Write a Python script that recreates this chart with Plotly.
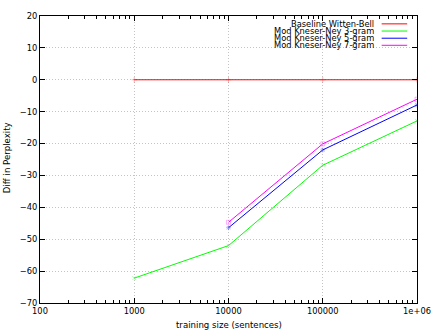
import plotly.graph_objects as go

# ---- data ----
sizes_baseline = [1000, 10000, 100000, 1000000]
baseline = [0, 0, 0, 0]
sizes_3gram = [1000, 10000, 100000, 1000000]
kn3 = [-62.2, -52.0, -26.8, -12.9]
sizes_5gram = [10000, 100000, 1000000]
kn5 = [-46.4, -22.0, -7.9]
sizes_7gram = [10000, 100000, 1000000]
kn7 = [-44.7, -20.1, -6.1]

x_tickvals = [100, 1000, 10000, 100000, 1000000]
x_ticktext = ["100", "1000", "10000", "100000", "1e+06"]
y_tickvals = list(range(-70, 21, 10))

series = [
    ("Baseline Witten-Bell", sizes_baseline, baseline, "#ff0000", "cross-thin"),
    ("Mod Kneser-Ney 3-gram", sizes_3gram, kn3, "#00ff00", "x-thin"),
    ("Mod Kneser-Ney 5-gram", sizes_5gram, kn5, "#0000ff", "asterisk"),
    ("Mod Kneser-Ney 7-gram", sizes_7gram, kn7, "#ff00ff", "square-open"),
]

FONT = "DejaVu Sans"
FS = 8.3
fig = go.Figure()
for name, xs, ys, col, sym in series:
    fig.add_trace(go.Scatter(
        x=xs, y=ys, name=name, mode="lines+markers",
        line=dict(color=col, width=1),
        marker=dict(symbol=sym, size=4, color=col, opacity=0.3,
                    line=dict(color=col, width=1)),
        showlegend=False, cliponaxis=True,
    ))

W, H = 442, 332
L, R, T, B = 40, 18, 11, 29
pw, ph = W - L - R, H - T - B

def px_x(p):
    return (p - L) / pw

def px_y(p):
    return 1 - (p - T) / ph

# custom gnuplot-style legend (text right, sample line on the right)
leg_rows = [19.0, 26.3, 33.6, 40.8]
for (name, xs, ys, col, sym), yy in zip(series, leg_rows):
    fig.add_annotation(xref="paper", yref="paper", x=px_x(381), y=px_y(yy),
                       text=name, showarrow=False, xanchor="right", yanchor="middle",
                       borderpad=0,
                       font=dict(family=FONT, size=FS, color="#000000"))
    fig.add_shape(type="line", xref="paper", yref="paper",
                  x0=px_x(388), x1=px_x(414), y0=px_y(yy), y1=px_y(yy),
                  line=dict(color=col, width=1))

minor_vals = [m * 10 ** e for e in range(2, 6) for m in range(2, 10)]

GRID = "#c4c4c4"
fig.update_xaxes(
    type="log", range=[2, 6],
    tickmode="array", tickvals=x_tickvals, ticktext=x_ticktext,
    ticks="inside", ticklen=5, tickcolor="#000000", tickwidth=1,
    minor=dict(tickmode="array", tickvals=minor_vals, ticks="inside", ticklen=3,
               tickcolor="#000000", showgrid=False),
    showline=True, linecolor="#000000", linewidth=1, mirror="allticks",
    showgrid=True, gridcolor=GRID, griddash="1px,2px", gridwidth=1,
    zeroline=False, tickfont=dict(family=FONT, size=FS, color="#000000"),
)
fig.update_yaxes(
    range=[-70, 20], tickmode="array", tickvals=y_tickvals,
    ticks="inside", ticklen=5, tickcolor="#000000", tickwidth=1,
    showline=True, linecolor="#000000", linewidth=1, mirror="allticks",
    showgrid=True, gridcolor=GRID, griddash="1px,2px", gridwidth=1,
    zeroline=False, tickfont=dict(family=FONT, size=FS, color="#000000"),
)

fig.add_annotation(xref="paper", yref="paper", x=px_x(232), y=px_y(325),
                   text="training size (sentences)", showarrow=False,
                   xanchor="center", yanchor="middle",
                   font=dict(family=FONT, size=8.6, color="#000000"))
fig.add_annotation(xref="paper", yref="paper", x=px_x(6), y=px_y(155),
                   text="Diff in Perplexity", showarrow=False, textangle=-90,
                   xanchor="center", yanchor="middle",
                   font=dict(family=FONT, size=8.6, color="#000000"))

fig.update_layout(
    width=W, height=H,
    margin=dict(l=L, r=R, t=T, b=B, pad=0),
    paper_bgcolor="#ffffff", plot_bgcolor="#ffffff",
    showlegend=False,
    font=dict(family=FONT, size=FS, color="#000000"),
)

fig.write_html(
    "out.html",
    config={"displayModeBar": False, "staticPlot": True},
    post_script="document.body.style.margin='0px';document.body.style.overflow='hidden';",
)
